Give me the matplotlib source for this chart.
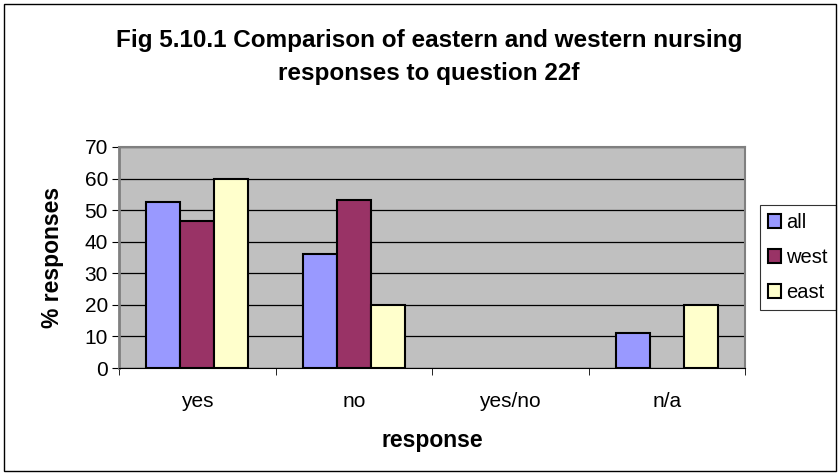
import numpy as np
import matplotlib.pyplot as plt
from matplotlib.patches import Rectangle

plt.rcParams['font.family'] = ['Liberation Sans', 'DejaVu Sans']

# chart data
categories = ['yes', 'no', 'yes/no', 'n/a']
series_names = ['all', 'west', 'east']
all_vals = [52.6, 36.1, 0, 11.1]
west_vals = [46.7, 53.3, 0, 0]
east_vals = [60, 20, 0, 20]
colors = ['#9999FF', '#993366', '#FFFFCC']

W, H = 840, 475
fig = plt.figure(figsize=(W / 100, H / 100), dpi=100)
# outer chart border
fig.patches.append(Rectangle((4 / W, 4 / H), 832 / W, 467 / H, transform=fig.transFigure,
                             fill=False, edgecolor='black', linewidth=1))

# plot area in pixels: left 119, right 745, top 147, bottom 368
ax = fig.add_axes([119 / W, 1 - 368 / H, 626 / W, 221 / H])
ax.set_facecolor('#C0C0C0')

x = np.arange(len(categories))
w = 0.218
for i, (vals, name) in enumerate(zip([all_vals, west_vals, east_vals], series_names)):
    lw = [1.5 if v > 0 else 0 for v in vals]
    ax.bar(x + (i - 1) * w, vals, w, color=colors[i], edgecolor='black',
           linewidth=lw, label=name, zorder=3)

ax.set_xlim(-0.5, len(categories) - 0.5)
ax.set_ylim(0, 70)
ax.set_yticks(np.arange(0, 71, 10))
ax.yaxis.grid(True, color='black', linewidth=0.9, zorder=1)
ax.set_axisbelow(True)

ax.set_xticks(x)
ax.set_xticklabels(categories, fontsize=15)
ax.tick_params(axis='x', length=0, pad=17)
ax.set_xticks(np.arange(-0.5, len(categories), 1), minor=True)
ax.tick_params(axis='x', which='minor', length=5, direction='out', color='black')
ax.tick_params(axis='y', labelsize=15, length=5, direction='out', pad=3)

for s in ['top', 'right']:
    ax.spines[s].set_color('#808080')
    ax.spines[s].set_linewidth(1.5)
ax.spines['left'].set_color('#808080')
ax.spines['left'].set_linewidth(2)
ax.spines['bottom'].set_color('black')

ax.set_ylabel('% responses', fontsize=16.5, fontweight='bold')
ax.yaxis.set_label_coords((53 - 119) / 626, 0.5)
ax.yaxis.label.set_va('center')
ax.set_xlabel('response', fontsize=16.5, fontweight='bold')
ax.xaxis.set_label_coords(0.5, (368 - 440) / 221)
ax.xaxis.label.set_va('center')

fig.text(0.511, 1 - 47 / H, 'Fig 5.10.1 Comparison of eastern and western nursing',
         ha='center', va='baseline', fontsize=17.5, fontweight='bold')
fig.text(0.511, 1 - 80 / H, 'responses to question 22f',
         ha='center', va='baseline', fontsize=17.5, fontweight='bold')

leg = ax.legend(loc='upper left', bbox_to_anchor=(760 / W, 1 - 205 / H),
                bbox_transform=fig.transFigure, frameon=True, fancybox=False,
                edgecolor='black', fontsize=14.5, handlelength=0.65, handleheight=0.65,
                handletextpad=0.25, borderpad=0.4, labelspacing=0.8, borderaxespad=0)
leg.get_frame().set_linewidth(0.8)

fig.savefig('out.png', dpi=100)
